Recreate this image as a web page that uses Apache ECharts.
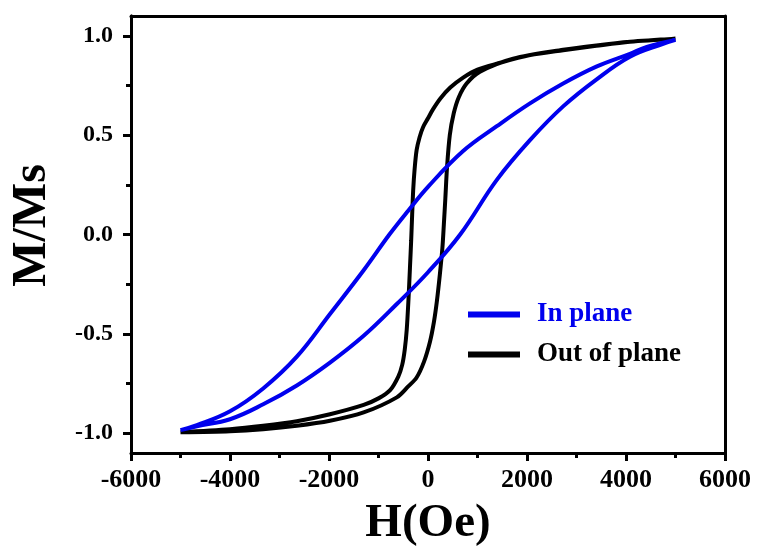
<!DOCTYPE html>
<html>
<head>
<meta charset="utf-8">
<script src="https://cdn.jsdelivr.net/npm/echarts@6/dist/echarts.min.js"></script>
<style>html,body{margin:0;padding:0;background:#fff}#c{width:757px;height:547px}</style>
</head>
<body>
<div id="c"></div>
<script>
// In plane: descending branch (+H -> -H)
var inPlaneDownH = [5000, 4420, 4080, 3400, 2730, 2060, 1390, 710, 0, -400, -780, -1300, -1980, -2650, -3330, -4000, -4670, -5000];
var inPlaneDownM = [0.98, 0.945, 0.91, 0.845, 0.76, 0.66, 0.545, 0.42, 0.24, 0.12, 0.0, -0.18, -0.40, -0.615, -0.775, -0.89, -0.96, -0.985];
// In plane: ascending branch (-H -> +H)
var inPlaneUpH = [-5000, -4670, -4000, -3330, -2650, -1980, -1300, -630, 0, 650, 1390, 2060, 2730, 3400, 4080, 4750, 5000];
var inPlaneUpM = [-0.985, -0.965, -0.93, -0.855, -0.76, -0.645, -0.51, -0.35, -0.19, 0.0, 0.275, 0.475, 0.645, 0.78, 0.895, 0.96, 0.98];
// Out of plane: descending branch
var outPlaneDownH = [5000, 4080, 3400, 2730, 2060, 1390, 1000, 710, 450, 250, 100, 0, -100, -170, -230, -270, -300, -320, -340, -365, -395, -430, -470, -520, -600, -770, -1000, -1300, -1980, -2650, -3330, -4000, -5000];
var outPlaneDownM = [0.985, 0.97, 0.95, 0.928, 0.903, 0.86, 0.83, 0.79, 0.74, 0.685, 0.63, 0.585, 0.54, 0.49, 0.425, 0.33, 0.22, 0.1, -0.03, -0.17, -0.33, -0.48, -0.58, -0.655, -0.715, -0.785, -0.825, -0.858, -0.905, -0.94, -0.963, -0.98, -0.995];
// Out of plane: ascending branch
var outPlaneUpH = [-5000, -4000, -3330, -2650, -1980, -1300, -630, -400, -230, -80, 40, 120, 180, 240, 290, 320, 350, 385, 440, 520, 620, 780, 1050, 1720, 2730, 3400, 4080, 5000];
var outPlaneUpM = [-0.995, -0.99, -0.98, -0.963, -0.938, -0.896, -0.82, -0.765, -0.72, -0.64, -0.54, -0.44, -0.335, -0.2, -0.07, 0.05, 0.18, 0.34, 0.5, 0.61, 0.69, 0.76, 0.82, 0.885, 0.93, 0.952, 0.97, 0.985];

var xTicks = [-6000, -4000, -2000, 0, 2000, 4000, 6000];
var yMajorTicks = [-1.0, -0.5, 0.0, 0.5, 1.0];
var yMinorTicks = [-0.75, -0.25, 0.25, 0.75];
var seriesNames = ['In plane', 'Out of plane'];

function pairs(hs, ms) { var out = []; for (var i = 0; i < hs.length; i++) out.push([hs[i], ms[i]]); return out; }
var inPlaneData = pairs(inPlaneDownH, inPlaneDownM).concat(pairs(inPlaneUpH, inPlaneUpM));
var outPlaneData = pairs(outPlaneDownH, outPlaneDownM).concat(pairs(outPlaneUpH, outPlaneUpM));

var FONT = "'Liberation Serif', 'Times New Roman', serif";
var chart = echarts.init(document.getElementById('c'), null, {renderer: 'canvas'});
var axisLineStyle = {color: '#000', width: 3};
chart.setOption({
  animation: false,
  backgroundColor: '#fff',
  grid: {left: 131, right: 32, top: 16, bottom: 94, containLabel: false, outerBoundsMode: 'none'},
  legend: {
    orient: 'vertical', left: 463, top: 296,
    itemWidth: 52, itemHeight: 6, itemGap: 13,
    icon: 'rect',
    textStyle: {fontFamily: FONT, fontWeight: 'bold', fontSize: 27, padding: [3, 0, 0, 12]},
    data: [
      {name: seriesNames[0], textStyle: {color: '#0000ee'}},
      {name: seriesNames[1], textStyle: {color: '#000'}}
    ]
  },
  xAxis: [{
    type: 'value', position: 'bottom', min: xTicks[0], max: xTicks[xTicks.length - 1], interval: 2000,
    axisLine: {show: true, onZero: false, lineStyle: axisLineStyle},
    axisTick: {show: true, inside: false, length: 8, lineStyle: {width: 3, color: '#000'}},
    minorTick: {show: true, splitNumber: 2, length: 5, lineStyle: {width: 3, color: '#000'}},
    splitLine: {show: false},
    axisLabel: {color: '#000', fontFamily: FONT, fontWeight: 'bold', fontSize: 26, margin: 14,
      formatter: function (v) { return String(v); }},
    name: 'H(Oe)', nameLocation: 'middle', nameGap: 47,
    nameTextStyle: {color: '#000', fontFamily: FONT, fontWeight: 'bold', fontSize: 47}
  }, {
    type: 'value', position: 'top', min: xTicks[0], max: xTicks[xTicks.length - 1],
    axisLine: {show: true, onZero: false, lineStyle: axisLineStyle},
    axisTick: {show: false}, axisLabel: {show: false}, splitLine: {show: false}
  }],
  yAxis: [{
    type: 'value', position: 'left', min: -1.1, max: 1.1,
    axisLine: {show: true, onZero: false, lineStyle: axisLineStyle},
    axisTick: {show: true, inside: false, length: 8, customValues: yMajorTicks, lineStyle: {width: 3, color: '#000'}},
    splitLine: {show: false},
    axisLabel: {color: '#000', fontFamily: FONT, fontWeight: 'bold', fontSize: 24, margin: 18,
      customValues: yMajorTicks, formatter: function (v) { return v.toFixed(1); }},
    name: 'M/Ms', nameLocation: 'middle', nameGap: 74,
    nameTextStyle: {color: '#000', fontFamily: FONT, fontWeight: 'bold', fontSize: 48, padding: [0, 0, 0, 18]}
  }, {
    type: 'value', position: 'left', min: -1.1, max: 1.1,
    axisLine: {show: true, onZero: false, lineStyle: axisLineStyle},
    axisTick: {show: true, inside: false, length: 5, customValues: yMinorTicks, lineStyle: {width: 3, color: '#000'}},
    axisLabel: {show: false}, splitLine: {show: false}
  }, {
    type: 'value', position: 'right', min: -1.1, max: 1.1,
    axisLine: {show: true, onZero: false, lineStyle: axisLineStyle},
    axisTick: {show: false}, axisLabel: {show: false}, splitLine: {show: false}
  }],
  series: [{
    name: seriesNames[0], type: 'line', data: inPlaneData, showSymbol: false, smooth: 0.4,
    lineStyle: {color: '#0000ee', width: 4}, itemStyle: {color: '#0000ee'}, z: 3
  }, {
    name: seriesNames[1], type: 'line', data: outPlaneData, showSymbol: false, smooth: 0.3,
    lineStyle: {color: '#000', width: 4}, itemStyle: {color: '#000'}, z: 2
  }]
});
</script>
</body>
</html>
